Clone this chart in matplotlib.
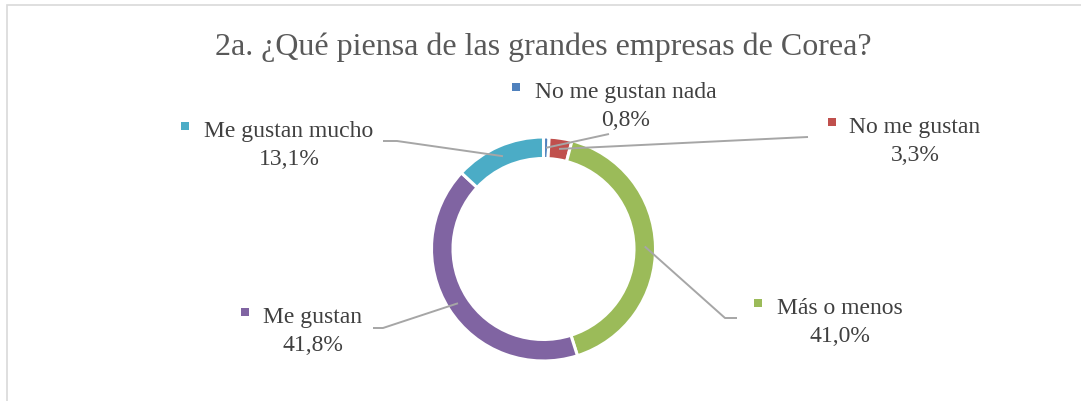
import matplotlib
matplotlib.use("Agg")
import matplotlib.pyplot as plt
from matplotlib.patches import Rectangle
import numpy as np

# ---- data ----
title = "2a. ¿Qué piensa de las grandes empresas de Corea?"
categories = ["No me gustan nada", "No me gustan", "Más o menos", "Me gustan", "Me gustan mucho"]
values = [0.8, 3.3, 41.0, 41.8, 13.1]
value_labels = ["0,8%", "3,3%", "41,0%", "41,8%", "13,1%"]
colors = ["#4F81BD", "#C0504D", "#9BBB59", "#8064A2", "#4BACC6"]

# ---- layout (pixel coords, y down) ----
W, H = 1081, 402
CX, CY = 543.5, 250.0
R_OUT, RING_W = 112.0, 21.5
R_LEAD = R_OUT - RING_W / 2

# label text centre x, baseline of first line, marker centre x
label_pos = {
    "No me gustan nada": (626, 98, 516),
    "No me gustan": (915, 133, 832),
    "Más o menos": (840, 314, 758),
    "Me gustan": (312.5, 323, 245),
    "Me gustan mucho": (289, 137, 185),
}
# leader line points near the label (start, elbow)
leader_pts = {
    "No me gustan nada": [(609, 135)],
    "No me gustan": [(808, 138), (797, 138.5)],
    "Más o menos": [(737, 319), (725, 319)],
    "Me gustan": [(373, 329), (383, 329)],
    "Me gustan mucho": [(383, 142), (397, 142)],
}

def Y(y):
    return H - y

fig = plt.figure(figsize=(W / 100, H / 100), dpi=100)
ax = fig.add_axes([0, 0, 1, 1])

ax.pie(values, colors=colors, startangle=90, counterclock=False,
       center=(CX, Y(CY)), radius=R_OUT,
       wedgeprops=dict(width=RING_W, edgecolor="white", linewidth=2.2))

ax.set_xlim(0, W)
ax.set_ylim(0, H)
ax.axis("off")

# chart border (only top and left visible)
ax.add_patch(Rectangle((7, Y(H + 20)), W + 20, (H + 20) - 6, fill=False,
                       edgecolor="#D9D9D9", linewidth=1.2, zorder=0))

ax.text(CX, Y(55), title, ha="center", va="baseline", fontsize=23,
        family="Liberation Serif", color="#595959")

cum = np.cumsum([0] + values)
total = cum[-1]
for i, cat in enumerate(categories):
    mid = (cum[i] + cum[i + 1]) / 2 / total
    theta = np.deg2rad(90 - 360 * mid)
    ex = CX + R_LEAD * np.cos(theta)
    ey = Y(CY) + R_LEAD * np.sin(theta)
    pts = leader_pts[cat]
    xs = [p[0] for p in pts] + [ex]
    ys = [Y(p[1]) for p in pts] + [ey]
    ax.plot(xs, ys, color="#A6A6A6", linewidth=1.4, zorder=3,
            solid_capstyle="butt")

    tx, by, mx = label_pos[cat]
    ax.text(tx, Y(by), cat, ha="center", va="baseline", fontsize=17,
            family="Liberation Serif", color="#404040")
    ax.text(tx, Y(by + 28), value_labels[i], ha="center", va="baseline",
            fontsize=17, family="Liberation Serif", color="#404040")
    ax.plot([mx], [Y(by - 10)], marker="s", markersize=5.3,
            color=colors[i], markeredgewidth=0, linestyle="none")

fig.savefig("out.png", dpi=100)
